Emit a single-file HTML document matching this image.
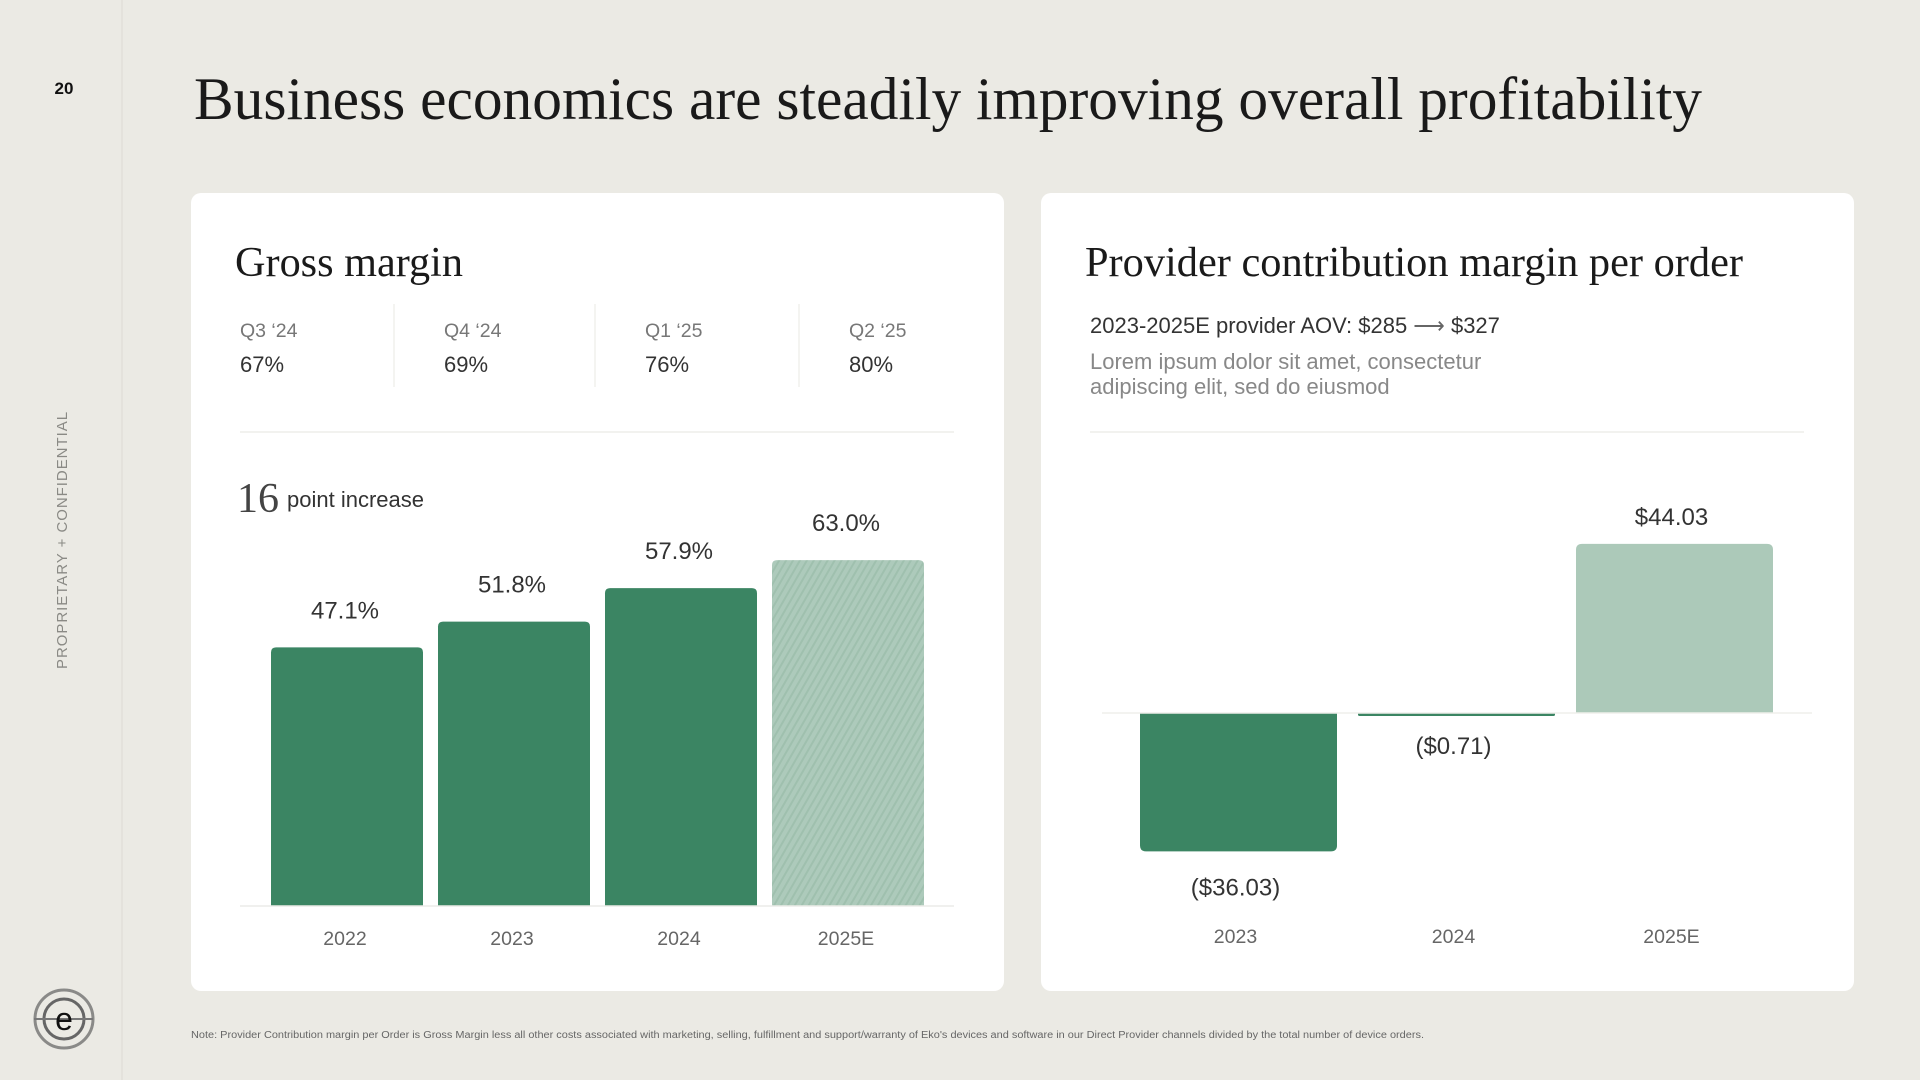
<!DOCTYPE html>
<html><head><meta charset="utf-8"><style>
html,body{margin:0;padding:0;background:#ebeae4;}
svg{display:block;font-family:"Liberation Sans",sans-serif;}
.serif{font-family:"Liberation Serif",serif;}
</style></head><body>
<svg id="slide" width="1920" height="1080" viewBox="0 0 1920 1080">
<defs>
<pattern id="hatch" patternUnits="userSpaceOnUse" width="6" height="6" patternTransform="rotate(30)">
<rect width="6" height="6" fill="#adcabb"/><rect width="2" height="6" fill="#9fc0ae"/>
</pattern>
</defs>
<rect width="1920" height="1080" fill="#ebeae4"/>
<line x1="122" y1="0" x2="122" y2="1080" stroke="#e1e0d9" stroke-width="1.5"/>
<text x="64" y="94" font-size="17" font-weight="bold" text-anchor="middle" fill="#111">20</text>
<text transform="translate(67,540) rotate(-90)" font-size="15" text-anchor="middle" fill="#8a8a85" letter-spacing="1" textLength="258" lengthAdjust="spacingAndGlyphs">PROPRIETARY + CONFIDENTIAL</text>
<g>
<circle cx="64" cy="1019" r="29" fill="none" stroke="#8a8a88" stroke-width="3"/>
<circle cx="64" cy="1019" r="20" fill="none" stroke="#666" stroke-width="3"/>
<line x1="34" y1="1019" x2="93" y2="1019" stroke="#777" stroke-width="2"/>
<text x="64" y="1030" font-size="32" text-anchor="middle" fill="#111">e</text>
</g>
<text class="serif" x="194" y="119" font-size="60" fill="#1a1a1a" textLength="1508" lengthAdjust="spacingAndGlyphs">Business economics are steadily improving overall profitability</text>

<rect x="191" y="193" width="813" height="798" rx="10" fill="#fff"/>
<text class="serif" x="235" y="276" font-size="42" fill="#1a1a1a" textLength="228" lengthAdjust="spacingAndGlyphs">Gross margin</text>
<g id="quarters"></g>
<line x1="240" y1="432" x2="954" y2="432" stroke="#eeeeea" stroke-width="1.5"/>
<text class="serif" x="237" y="512" font-size="42" fill="#444">16</text>
<text x="287" y="507" font-size="22" fill="#333">point increase</text>
<g id="gm-chart"></g>

<rect x="1041" y="193" width="813" height="798" rx="10" fill="#fff"/>
<text class="serif" x="1085" y="276" font-size="42" fill="#1a1a1a" textLength="658" lengthAdjust="spacingAndGlyphs">Provider contribution margin per order</text>
<text x="1090" y="333" font-size="22" fill="#333">2023-2025E provider AOV: $285 <tspan fill="#666">⟶</tspan> $327</text>
<text x="1090" y="369" font-size="22" fill="#888">Lorem ipsum dolor sit amet, consectetur</text>
<text x="1090" y="394" font-size="22" fill="#888">adipiscing elit, sed do eiusmod</text>
<line x1="1090" y1="432" x2="1804" y2="432" stroke="#eeeeea" stroke-width="1.5"/>
<g id="cm-chart"></g>

<text x="191" y="1038" font-size="10" fill="#666" textLength="1233" lengthAdjust="spacingAndGlyphs">Note: Provider Contribution margin per Order is Gross Margin less all other costs associated with marketing, selling, fulfillment and support/warranty of Eko's devices and software in our Direct Provider channels divided by the total number of device  orders.</text>
</svg>
<script>
const quarterLabels = ["Q3 ‘24","Q4 ‘24","Q1 ‘25","Q2 ‘25"];
const quarterValues = ["67%","69%","76%","80%"];
const gmCategories = ["2022","2023","2024","2025E"];
const gmValues = [47.1, 51.8, 57.9, 63.0];
const gmLabels = ["47.1%","51.8%","57.9%","63.0%"];
const cmCategories = ["2023","2024","2025E"];
const cmValues = [-36.03, -0.71, 44.03];
const cmLabels = ["($36.03)","($0.71)","$44.03"];

const NS = "http://www.w3.org/2000/svg";
function mk(tag, attrs, parent){const e=document.createElementNS(NS,tag);for(const k in attrs)e.setAttribute(k,attrs[k]);parent.appendChild(e);return e;}

const q = document.getElementById('quarters');
const qx = [240,444,645,849];
quarterLabels.forEach((l,i)=>{
  const t=mk('text',{x:qx[i],y:337,'font-size':19.5,fill:'#777'},q);t.textContent=l;
  
  
  const v=mk('text',{x:qx[i],y:372,'font-size':22,fill:'#333'},q);v.textContent=quarterValues[i];
  
  
  if(i>0){const d=mk('line',{x1:qx[i]-50,y1:304,x2:qx[i]-50,y2:387,stroke:'#f0f0ec','stroke-width':1.5},q);
    
    }
});

const g = document.getElementById('gm-chart');
const gmBase = 906, gmScale = 5.49;
const gy = v => gmBase - v*gmScale;
const gx = i => 271 + i*167;
const gw = 152;
gmValues.forEach((v,i)=>{
  const top=gy(v);
  const r=mk('path',{d:`M${gx(i)},${gmBase}V${top+5}q0,-5 5,-5H${gx(i)+gw-5}q5,0 5,5V${gmBase}Z`,fill:i===3?'url(#hatch)':'#3b8563'},g);
  
  
  const t=mk('text',{x:gx(i)+gw/2-2,y:top-29,'font-size':24,'text-anchor':'middle',fill:'#333'},g);t.textContent=gmLabels[i];
  
  
  const c=mk('text',{x:gx(i)+gw/2-2,y:945,'font-size':19.5,'text-anchor':'middle',fill:'#666'},g);c.textContent=gmCategories[i];
  
  
});
const ga=mk('line',{x1:240,y1:gmBase,x2:954,y2:gmBase,stroke:'#ececE8','stroke-width':1.5},g);



const c2 = document.getElementById('cm-chart');
const cmZero = 713, cmScale = 3.84;
const cy = v => cmZero - v*cmScale;
const cx = i => 1140 + i*218;
const cw = 197;
cmValues.forEach((v,i)=>{
  const y=cy(v);
  let d;
  if(v>=0){d=`M${cx(i)},${cmZero}V${y+6}q0,-6 6,-6H${cx(i)+cw-6}q6,0 6,6V${cmZero}Z`;}
  else{const b=Math.max(y,cmZero+3);const rr=Math.min(6,(b-cmZero)/2);d=`M${cx(i)},${cmZero}V${b-rr}q0,${rr} ${rr},${rr}H${cx(i)+cw-rr}q${rr},0 ${rr},-${rr}V${cmZero}Z`;}
  const r=mk('path',{d:d,fill:v>=0?'#acc9b9':'#3b8563'},c2);
  
  
  const b2=Math.max(y,cmZero+3);
  const ly = v>=0 ? y-19 : b2 + (b2-cmZero>20 ? 44 : 38);
  const t=mk('text',{x:cx(i)+cw/2-3,y:ly,'font-size':24,'text-anchor':'middle',fill:'#333'},c2);t.textContent=cmLabels[i];
  
  
  const c=mk('text',{x:cx(i)+cw/2-3,y:943,'font-size':19.5,'text-anchor':'middle',fill:'#666'},c2);c.textContent=cmCategories[i];
  
  
});
const za=mk('line',{x1:1102,y1:cmZero,x2:1812,y2:cmZero,stroke:'#efefeb','stroke-width':1.5},c2);


</script>
</body></html>
